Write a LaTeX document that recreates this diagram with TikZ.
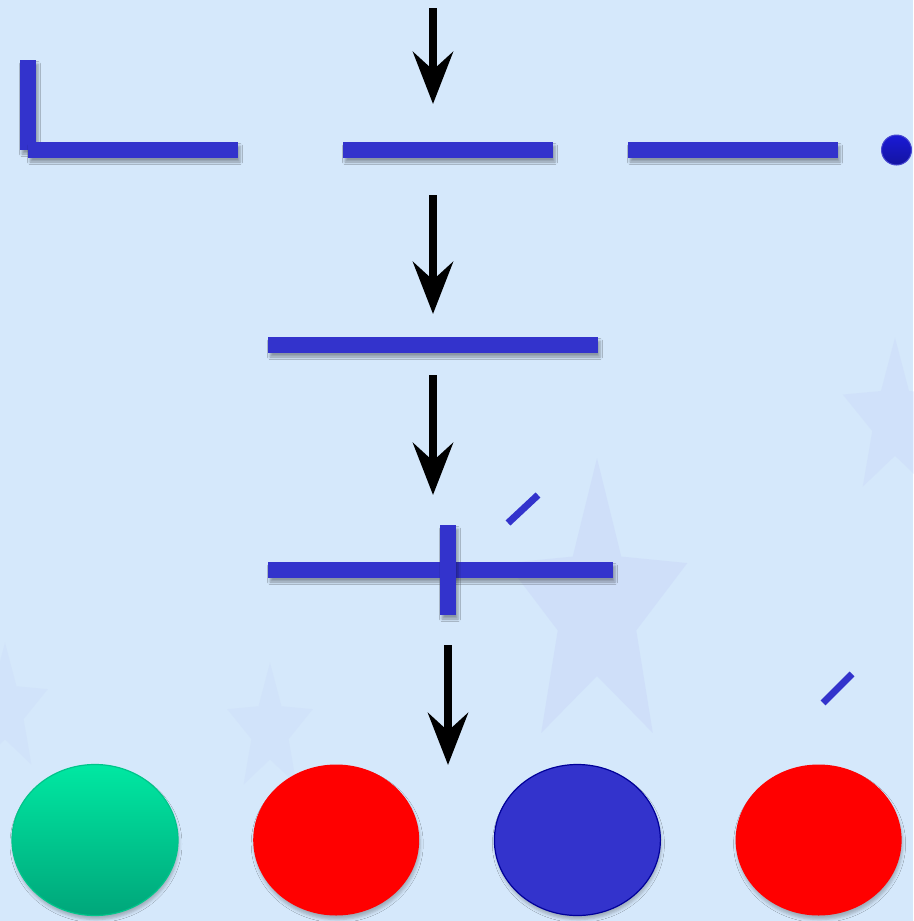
\documentclass[tikz,border=0pt]{standalone}
\usetikzlibrary{shapes.geometric, arrows.meta, positioning, shadows.blur}
\definecolor{bgblue}{RGB}{213,232,251}
\definecolor{starblue}{RGB}{196,208,248}
\definecolor{barblue}{RGB}{51,51,204}
\definecolor{dotblue}{RGB}{26,26,214}
\definecolor{mintup}{RGB}{0,232,162}
\definecolor{mintdown}{RGB}{0,166,122}
\tikzstyle{bar} = [rectangle, fill=barblue, inner sep=0pt, outer sep=0pt, minimum height=16pt, blur shadow={shadow xshift=2pt, shadow yshift=-4pt, shadow blur radius=2.5pt, shadow opacity=35}]
\tikzstyle{ball} = [ellipse, minimum width=166pt, minimum height=151pt, inner sep=0pt, line width=1.2pt, blur shadow={shadow xshift=1pt, shadow yshift=-4pt, shadow blur radius=3pt, shadow opacity=25}]
\tikzstyle{bgstar} = [star, star points=5, star point ratio=2.3, fill=starblue, opacity=0.35, inner sep=0pt]
\tikzstyle{tick} = [line width=7pt, draw=barblue]
\tikzstyle{arrow} = [line width=8pt, -{Stealth[length=52pt, width=40pt, inset=18pt]}]

\begin{document}
\begin{tikzpicture}[x=1pt, y=-1pt]

\fill [bgblue] (0,0) rectangle (913,921);
\useasboundingbox (0,0) rectangle (913,921);

% faint stars in the backdrop
\node (bgstar1) [bgstar, minimum size=190pt, transform shape, yscale=1.6] at (597,610) {};
\node (bgstar2) [bgstar, minimum size=110pt, transform shape, yscale=1.5, opacity=0.25] at (895,420) {};
\node (bgstar3) [bgstar, minimum size=90pt, transform shape, yscale=1.5, opacity=0.2] at (270,730) {};
\node (bgstar4) [bgstar, minimum size=90pt, transform shape, yscale=1.5, opacity=0.2] at (5,710) {};

% top row
\node (corner) [bar, minimum width=16pt, minimum height=90pt] at (28,105) {};
\node (topbar1) [bar, minimum width=210pt] at (133,150) {};
\node (topbar2) [bar, minimum width=210pt, right=105pt of topbar1] {};
\node (topbar3) [bar, minimum width=210pt, right=75pt of topbar2] {};
\node (dot) [circle, minimum size=30pt, inner sep=0pt, draw=barblue!90!white, line width=1pt, top color=dotblue, bottom color=dotblue!75!black, right=43pt of topbar3] {};

% middle
\node (midbar) [bar, minimum width=330pt] at (433,345) {};
\node (lowbar) [bar, minimum width=345pt] at (440.5,570) {};
\node (cross) [bar, minimum width=16pt, minimum height=90pt] at (448,570) {};

\draw [tick] (508,523) -- (538,495);
\draw [tick] (823,703) -- (852,674);

% bottom row
\node (green) [ball, draw=mintup!85!black, top color=mintup, bottom color=mintdown] at (95,840) {};
\node (redA) [ball, fill=red, right=74pt of green] {};
\node (navy) [ball, fill=barblue, draw={rgb,255:red,0;green,0;blue,153}, right=74pt of redA] {};
\node (redB) [ball, fill=red, right=74pt of navy] {};

\coordinate (top) at (433,8);
\coordinate (out) at (448,765);

\draw [arrow, shorten >=38pt] (top) -- (top |- topbar2.north);
\draw [arrow, shorten <=37pt, shorten >=23pt] (midbar.north |- topbar2.south) -- (midbar.north);
\draw [arrow, shorten <=22pt, shorten >=30pt] (midbar.south) -- (midbar.south |- cross.north);
\draw [arrow, shorten <=30pt] (cross.south) -- (out);

\end{tikzpicture}
\end{document}
